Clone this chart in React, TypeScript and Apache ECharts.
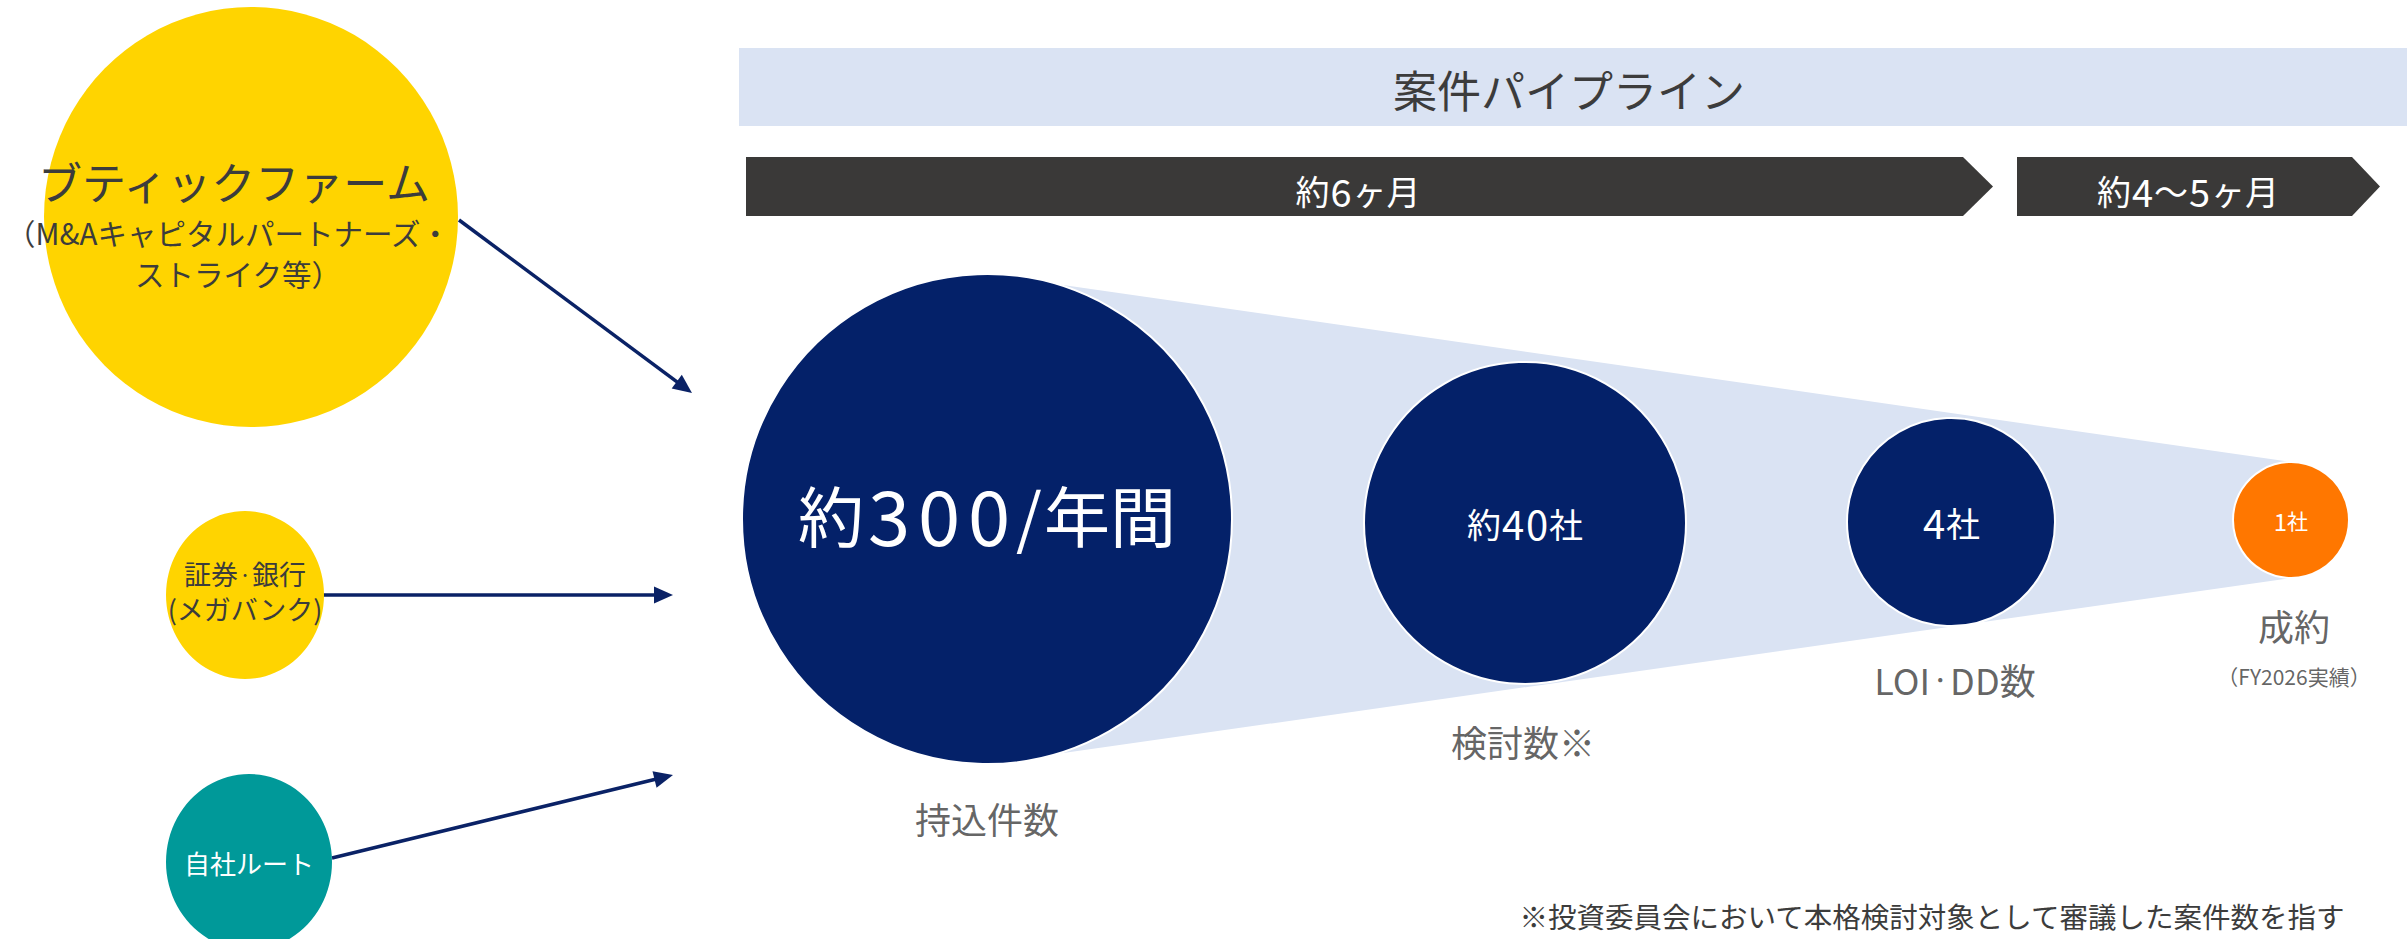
import React, { useEffect, useRef } from 'react';
import * as echarts from 'echarts';

const W = 2407;
const H = 939;
const FONT = '"Noto Sans CJK JP", "Noto Sans", sans-serif';

// ---- content ----
const headerTitle = '案件パイプライン';
const phaseNames = ['約6ヶ月', '約4～5ヶ月'];
const stageNames = ['持込件数', '検討数※', 'LOI・DD数', '成約'];
const stageCounts = ['約300/年間', '約40社', '4社', '1社'];
const stageNotes = ['', '', '', '（FY2026実績）'];
const sourceNames = ['ブティックファーム', '証券・銀行', '自社ルート'];
const sourceNotes = ['（M&Aキャピタルパートナーズ・\nストライク等）', '(メガバンク)', ''];
const footnote = '※投資委員会において本格検討対象として審議した案件数を指す';

// ---- layout ----
const stageX = [987, 1525, 1951, 2291];
const stageY = [519, 523, 522, 520];
const stageR = [245, 161, 104, 58];
const stageColors = ['#042169', '#042169', '#042169', '#FF7700'];
const stageFont = [66, 34, 34, 21];
const stageDigitFont = [76, 40, 40, 24];
const stageDigitW = [50, 24, 24, 13];
const stageLabelOffsetY = [-6, 0, 0, 0];
const stageNameX = [987, 1523, 1955, 2294];
const stageNameY = [818, 741, 679, 625];
const stageNoteY = [0, 0, 0, 676];

const sourceX = [251, 245, 249];
const sourceY = [217, 595, 862];
const sourceW = [414, 158, 166];
const sourceH = [420, 168, 176];
const sourceColors = ['#FFD400', '#FFD400', '#009999'];
// first source's three text lines: [x, y, fontSize]
const boutiqueLines = [
  [234, 181, 44],
  [228, 232, 29.5],
  [238, 273, 29.5],
];

const phaseBars = [
  { x0: 746, x1: 1963, tip: 1993, tx: 1358 },
  { x0: 2017, x1: 2352, tip: 2380, tx: 2188 },
];
const barTop = 157;
const barBottom = 216;

const arrows = [
  [459, 220, 692, 393],
  [323, 595, 673, 595],
  [332, 858, 673, 775],
];

const NAVY_ARROW = '#0A2266';
const TEXT = '#3C3C3C';
const LIGHT = '#DAE3F3';
const BAR = '#3A3938';

function richDigits(text: string) {
  let out = '';
  for (const ch of text) {
    if (/[0-9]/.test(ch)) out += `{d|${ch}}`;
    else if (ch === '/') out += `{s|/}`;
    else if (ch === '・') out += `{m|・}`;
    else out += ch;
  }
  return out;
}

function arrow(x1: number, y1: number, x2: number, y2: number) {
  const dx = x2 - x1;
  const dy = y2 - y1;
  const L = Math.hypot(dx, dy);
  const ux = dx / L;
  const uy = dy / L;
  const hl = 19;
  const hw = 8.5;
  const bx = x2 - ux * hl;
  const by = y2 - uy * hl;
  return [
    {
      type: 'line',
      shape: { x1, y1, x2: bx + ux * 2, y2: by + uy * 2 },
      style: { stroke: NAVY_ARROW, lineWidth: 3.5 },
    },
    {
      type: 'polygon',
      shape: {
        points: [
          [x2, y2],
          [bx - uy * hw, by + ux * hw],
          [bx + uy * hw, by - ux * hw],
        ],
      },
      style: { fill: NAVY_ARROW },
    },
  ];
}

export default function App() {
  const ref = useRef<HTMLDivElement>(null);

  useEffect(() => {
    document.body.style.margin = '0';
    const chart = echarts.init(ref.current!, null, { renderer: 'svg', width: W, height: H });

    const graphic: any[] = [];
    graphic.push({
      type: 'rect',
      shape: { x: 739, y: 48, width: W - 739, height: 78 },
      style: { fill: LIGHT },
    });
    graphic.push({
      type: 'text',
      x: 1569,
      y: 89,
      style: {
        text: headerTitle,
        fontSize: 44,
        fontFamily: FONT,
        fill: TEXT,
        align: 'center',
        verticalAlign: 'middle',
      },
    });
    phaseBars.forEach((b, i) => {
      const mid = (barTop + barBottom) / 2;
      graphic.push({
        type: 'polygon',
        shape: {
          points: [
            [b.x0, barTop],
            [b.x1, barTop],
            [b.tip, mid],
            [b.x1, barBottom],
            [b.x0, barBottom],
          ],
        },
        style: { fill: BAR },
      });
      graphic.push({
        type: 'text',
        x: b.tx,
        y: mid + 4,
        style: {
          text: richDigits(phaseNames[i]),
          fontSize: 34,
          fontFamily: FONT,
          fill: '#FFFFFF',
          align: 'center',
          verticalAlign: 'middle',
          rich: {
            d: { fontSize: 38, fontFamily: FONT, fill: '#FFFFFF', width: 23, align: 'center' },
          },
        },
      });
    });
    arrows.forEach((a) => graphic.push(...arrow(a[0], a[1], a[2], a[3])));
    graphic.push({
      type: 'text',
      x: 1932,
      y: 915,
      style: {
        text: footnote,
        fontSize: 28.5,
        fontFamily: FONT,
        fill: TEXT,
        align: 'center',
        verticalAlign: 'middle',
      },
    });
    // boutique firm text lines (above the yellow circle)
    const boutiqueTexts = [sourceNames[0], ...sourceNotes[0].split('\n')];
    boutiqueTexts.forEach((t, i) => {
      const [x, y, fs] = boutiqueLines[i];
      graphic.push({
        type: 'text',
        x,
        y,
        z: 100,
        style: {
          text: t,
          fontSize: fs,
          fontFamily: FONT,
          fill: TEXT,
          align: 'center',
          verticalAlign: 'middle',
        },
      });
    });

    const stageData = stageCounts.map((c, i) => ({
      value: [stageX[i], stageY[i]],
      symbolSize: stageR[i] * 2,
      itemStyle: {
        color: stageColors[i],
        opacity: 1,
        borderColor: '#FFFFFF',
        borderWidth: 2,
      },
      label: {
        show: true,
        position: 'inside',
        offset: [0, stageLabelOffsetY[i]],
        formatter: richDigits(c),
        color: '#FFFFFF',
        fontSize: stageFont[i],
        fontFamily: FONT,
        rich: {
          d: {
            width: stageDigitW[i],
            align: 'center',
            color: '#FFFFFF',
            fontSize: stageDigitFont[i],
            fontFamily: FONT,
          },
          s: {
            width: Math.round(stageFont[i] * 0.46),
            align: 'center',
            color: '#FFFFFF',
            fontSize: stageFont[i],
            fontFamily: FONT,
          },
        },
      },
    }));

    const nameData: any[] = [];
    stageNames.forEach((n, i) => {
      nameData.push({
        value: [stageNameX[i], stageNameY[i]],
        label: {
          formatter: richDigits(n),
          fontSize: 36,
          rich: { m: { fontSize: 20, color: TEXT, fontFamily: FONT } },
        },
      });
      if (stageNotes[i]) {
        nameData.push({
          value: [stageNameX[i], stageNoteY[i]],
          label: { formatter: stageNotes[i], fontSize: 21 },
        });
      }
    });

    const sourceData = sourceNames.map((n, i) => {
      let formatter = '';
      let rich: any = {};
      let color = TEXT;
      const offset = i === 1 ? [0, -4] : [0, 0];
      let show = true;
      if (i === 0) {
        show = false;
      } else if (i === 1) {
        const parts = n.split('・');
        formatter = `{a|${parts[0]}}{m|・}{a|${parts[1]}}\n{a|${sourceNotes[i]}}`;
        rich = {
          a: { fontSize: 27, lineHeight: 35, fontFamily: FONT, color: TEXT },
          m: { fontSize: 14, lineHeight: 35, fontFamily: FONT, color: TEXT },
        };
      } else {
        formatter = `{a|${n}}`;
        rich = { a: { fontSize: 26, lineHeight: 32, fontFamily: FONT, color: '#FFFFFF' } };
        color = '#FFFFFF';
      }
      return {
        value: [sourceX[i], sourceY[i]],
        symbolSize: [sourceW[i], sourceH[i]],
        itemStyle: { color: sourceColors[i], opacity: 1 },
        label: {
          show,
          position: 'inside',
          offset,
          formatter,
          rich,
          color,
          align: 'center',
        },
      };
    });

    chart.setOption({
      animation: false,
      backgroundColor: '#FFFFFF',
      grid: { left: 0, right: 0, top: 0, bottom: 0, containLabel: false },
      xAxis: { type: 'value', min: 0, max: W, show: false },
      yAxis: { type: 'value', min: 0, max: H, inverse: true, show: false },
      graphic,
      series: [
        {
          type: 'custom',
          coordinateSystem: 'cartesian2d',
          silent: true,
          z: 1,
          data: [[0, 0]],
          renderItem: (_params: any, api: any) => {
            const pts = [
              [stageX[0], stageY[0] - stageR[0]],
              [stageX[3], stageY[3] - stageR[3]],
              [stageX[3], stageY[3] + stageR[3]],
              [stageX[0], stageY[0] + stageR[0]],
            ].map((p) => api.coord(p));
            return { type: 'polygon', shape: { points: pts }, style: { fill: LIGHT } };
          },
        },
        {
          type: 'scatter',
          name: 'stages',
          silent: true,
          z: 3,
          symbol: 'circle',
          itemStyle: { opacity: 1 },
          data: stageData,
        },
        {
          type: 'scatter',
          name: 'sources',
          silent: true,
          z: 3,
          symbol: 'circle',
          itemStyle: { opacity: 1 },
          data: sourceData,
        },
        {
          type: 'scatter',
          name: 'stageNames',
          silent: true,
          z: 4,
          symbolSize: 1,
          itemStyle: { color: 'rgba(0,0,0,0)' },
          label: {
            show: true,
            position: 'inside',
            color: TEXT,
            fontFamily: FONT,
          },
          data: nameData,
        },
      ],
    });

    return () => chart.dispose();
  }, []);

  return (
    <div
      ref={ref}
      style={{ position: 'fixed', left: 0, top: 0, width: W, height: H, background: '#fff' }}
    />
  );
}
